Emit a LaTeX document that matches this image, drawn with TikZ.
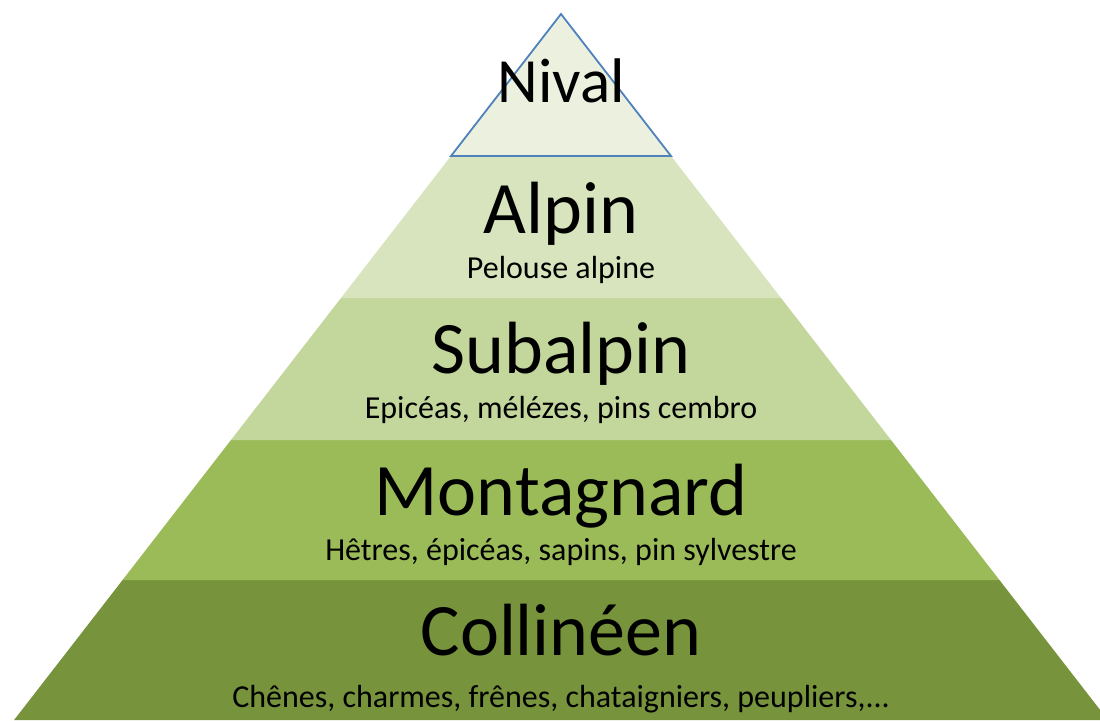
\documentclass[tikz,border=0pt]{standalone}
\usepackage{fontspec}
\setmainfont{Carlito}
\definecolor{cNival}{HTML}{EBF1DE}
\definecolor{cAlpin}{HTML}{D7E4BD}
\definecolor{cSub}{HTML}{C3D69B}
\definecolor{cMont}{HTML}{9BBB59}
\definecolor{cColl}{HTML}{77933C}
\definecolor{cEdge}{HTML}{4F81BD}
\begin{document}
\begin{tikzpicture}[x=1pt,y=-1pt,
  title/.style={anchor=base,inner sep=0pt,font=\fontsize{74}{74}\selectfont},
  sub/.style={anchor=base,inner sep=0pt,font=\fontsize{32}{32}\selectfont}]
\useasboundingbox (0,0) rectangle (1100,720);
\clip (0,0) rectangle (1100,720);
\fill[white] (0,0) rectangle (1100,720);
% bands
\fill[cColl] (122.6,580) -- (999.4,580) -- (1107.9,720) -- (14.1,720) -- cycle;
\fill[cMont] (231,440) -- (891,440) -- (999.4,580) -- (122.6,580) -- cycle;
\fill[cSub] (341,298) -- (781,298) -- (891,440) -- (231,440) -- cycle;
\fill[cAlpin] (451,156) -- (671,156) -- (781,298) -- (341,298) -- cycle;
\draw[cEdge,line width=1.8pt,fill=cNival,line join=miter] (561,14) -- (671,156) -- (451,156) -- cycle;
% labels
\node[anchor=base,inner sep=0pt,font=\fontsize{63}{63}\selectfont] (nival) at (561,102) {Nival};
\node[title] (alpin) at (561,233) {Alpin};
\node[sub] (alpinsub) at (561,278) {Pelouse alpine};
\node[title] (subalpin) at (561,373) {Subalpin};
\node[sub] (subalpinsub) at (561,418) {Epicéas, mélézes, pins cembro};
\node[title] (mont) at (561,515) {Montagnard};
\node[sub] (montsub) at (561,560) {Hêtres, épicéas, sapins, pin sylvestre};
\node[title] (coll) at (561,655) {Collinéen};
\node[sub] (collsub) at (561,707) {Chênes, charmes, frênes, chataigniers, peupliers,...};
\end{tikzpicture}
\end{document}
